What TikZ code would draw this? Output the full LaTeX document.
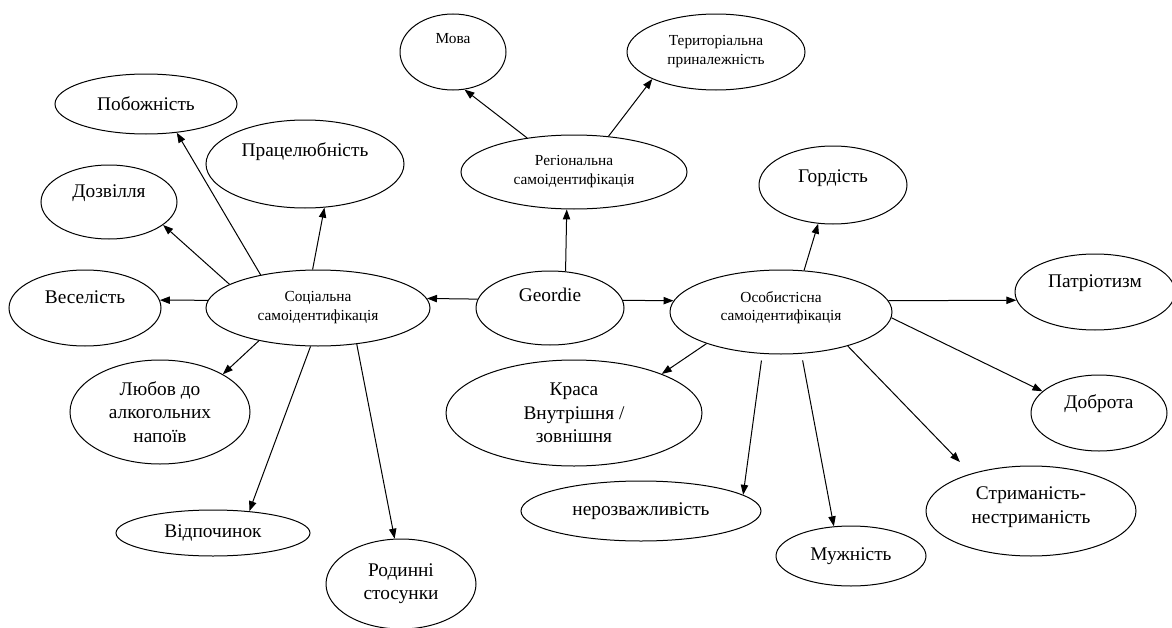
\documentclass[tikz,border=0pt]{standalone}
\usepackage{fontspec}
\setmainfont{Liberation Serif}
\usetikzlibrary{shapes.geometric,arrows.meta}

\tikzset{every picture/.style={line width=0.75pt}}

\begin{document}
\begin{tikzpicture}[x=0.75pt,y=0.75pt,yscale=-1,xscale=1,
  oval/.style={draw, ellipse, inner sep=0pt, align=center},
  big/.style={font=\fontsize{14.5}{17.5}\selectfont},
  small/.style={font=\fontsize{11.5}{14.2}\selectfont},
  arr/.style={-{Triangle[length=7.5pt,width=5.5pt]}}]
%set diagram left start at 0, and has height of 628
\useasboundingbox (0,0) rectangle (1172,628);

%Shape: Ellipse (centre)
\node [oval, big, minimum width=111pt, minimum height=55.5pt, text depth=19.5pt] (geo) at (550,308) {Geordie};
%Shape: Ellipse (three kinds)
\node [oval, small, minimum width=168pt, minimum height=57pt] (soc) at (318,308) {Соціальна\\самоідентифікація};
\node [oval, small, minimum width=169.5pt, minimum height=55.5pt] (reg) at (574,172) {Регіональна\\самоідентифікація};
\node [oval, small, minimum width=166.5pt, minimum height=63pt, text depth=9pt] (os) at (781,312) {Особистісна\\самоідентифікація};

%Shape: Ellipse (regional)
\node [oval, small, minimum width=79.5pt, minimum height=57pt, text depth=20.5pt] (mova) at (453,52) {Мова};
\node [oval, small, minimum width=133.5pt, minimum height=57pt] (ter) at (716,52) {Територіальна\\приналежність};

%Shape: Ellipse (social)
\node [oval, big, minimum width=136.5pt, minimum height=45pt] (pob) at (146,104) {Побожність};
\node [oval, big, minimum width=148.5pt, minimum height=66pt, text depth=21pt] (prac) at (305,164) {Працелюбність};
\node [oval, big, minimum width=102pt, minimum height=55.5pt, text depth=17pt] (dozv) at (109,202) {Дозвілля};
\node [oval, big, minimum width=114pt, minimum height=57pt, text depth=17pt] (ves) at (85,308) {Веселість};
\node [oval, big, minimum width=135pt, minimum height=78pt] (lub) at (160,412) {Любов до\\алкогольних\\напоїв};
\node [oval, big, minimum width=145.5pt, minimum height=34.5pt] (vidp) at (213,533) {Відпочинок};
\node [oval, big, minimum width=112.5pt, minimum height=67.5pt] (rod) at (401,584) {Родинні\\стосунки};

%Shape: Ellipse (personal)
\node [oval, big, minimum width=111pt, minimum height=58.5pt, text depth=13.5pt] (gord) at (833,185) {Гордість};
\node [oval, big, minimum width=120pt, minimum height=57pt, text depth=17pt] (pat) at (1095,292) {Патріотизм};
\node [oval, big, minimum width=102pt, minimum height=57pt, text depth=17pt] (dobr) at (1099,413) {Доброта};
\node [oval, big, minimum width=192pt, minimum height=79.5pt] (krasa) at (574,413) {Краса\\Внутрішня /\\зовнішня};
\node [oval, big, minimum width=180pt, minimum height=45pt] (nero) at (641,511) {нерозважливість};
\node [oval, big, minimum width=112.5pt, minimum height=45pt] (muzh) at (851,556) {Мужність};
\node [oval, big, minimum width=157.5pt, minimum height=67.5pt, text depth=9pt] (strym) at (1031,511) {Стриманість-\\нестриманість};

%Straight Lines (from centre)
\draw [arr] (geo.173) -- (soc.5);
\draw [arr] (geo.6) -- (os.174);
\draw [arr] (geo.67) -- (reg.259);

%Straight Lines (regional)
\draw [arr] (reg.144) -- (mova.287);
\draw [arr] (reg.46) -- (ter.203);

%Straight Lines (social)
\draw [arr] (soc.150) -- (pob.317);
\draw [arr] (soc.98) -- (prac.294);
\draw [arr] (soc.165) -- (dozv.337);
\draw [arr] (soc.176) -- (ves.6);
\draw [arr] (soc.209) -- (lub.31);
\draw [arr] (soc.259) -- (vidp.31);
\draw [arr] (soc.317) -- (rod.98);

%Straight Lines (personal)
\draw [arr] (os.61) -- (gord.249);
\draw [arr] (os.6) -- (pat.186);
\draw [arr] (os.357) -- (dobr.159);
\draw [arr] (os.203) -- (krasa.24);
\draw [arr, shorten <=5pt] (os.246) -- (nero.9);
\draw [arr, shorten <=5pt] (os.296) -- (muzh.120);
\draw [arr, shorten >=12pt] (os.333) -- (strym.148);

\end{tikzpicture}
\end{document}
